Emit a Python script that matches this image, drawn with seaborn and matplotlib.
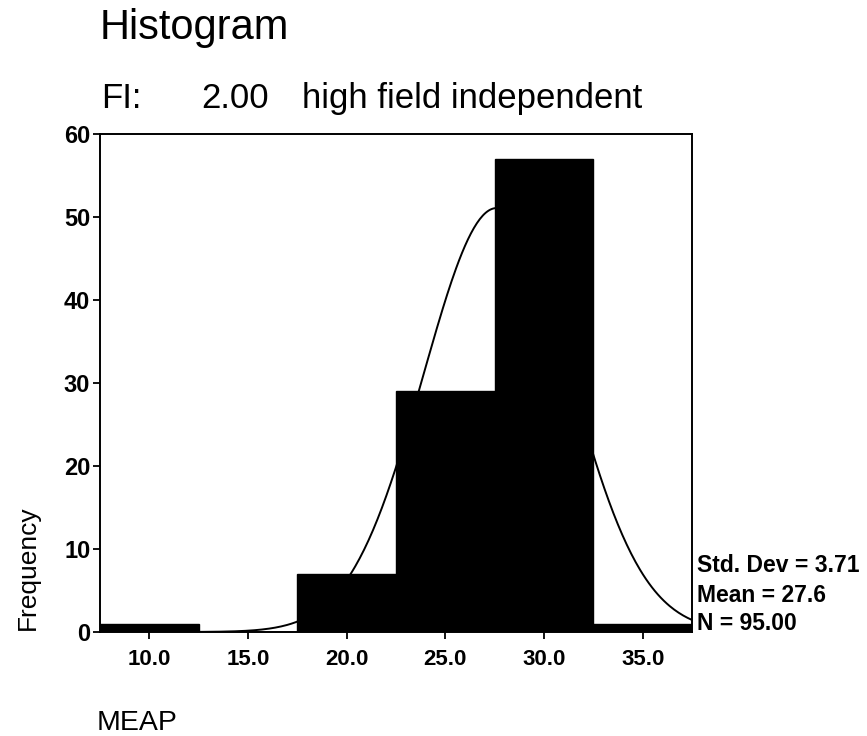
import numpy as np
import pandas as pd
import matplotlib
matplotlib.use("Agg")
import matplotlib.pyplot as plt
import seaborn as sns

# Data
bin_centers = [10.0, 15.0, 20.0, 25.0, 30.0, 35.0]
counts = [1, 0, 7, 29, 57, 1]
xtick_labels = ["10.0", "15.0", "20.0", "25.0", "30.0", "35.0"]
yticks = [0, 10, 20, 30, 40, 50, 60]
std_dev = 3.71
mean = 27.6
n_total = 95
bin_width = 5.0

sns.set_theme(style="white")
plt.rcParams['font.family'] = ['Liberation Sans', 'DejaVu Sans']

W, H = 867, 736
fig = plt.figure(figsize=(W / 100, H / 100), dpi=100)
ax = fig.add_axes([100 / W, 1 - 632 / H, 592 / W, 498 / H])

df = pd.DataFrame({"MEAP": bin_centers, "count": counts})
lo = bin_centers[0] - bin_width / 2
hi = bin_centers[-1] + bin_width / 2
sns.histplot(data=df, x="MEAP", weights="count", binwidth=bin_width, binrange=(lo, hi),
             color="black", edgecolor="black", alpha=1, linewidth=1, ax=ax)

# Normal curve from the stated mean / std dev
xs = np.linspace(lo, hi, 400)
ys = n_total * bin_width / (std_dev * np.sqrt(2 * np.pi)) * np.exp(-0.5 * ((xs - mean) / std_dev) ** 2)
sns.lineplot(x=xs, y=ys, color="black", linewidth=1.4, ax=ax)

ax.set_xlim(lo, hi)
ax.set_ylim(0, 60)
ax.set_xticks(bin_centers)
ax.set_xticklabels(xtick_labels)
ax.set_yticks(yticks)
ax.set_yticklabels([str(v) for v in yticks])
ax.tick_params(axis="both", direction="out", length=5, width=1.3, color="black",
               labelcolor="black", bottom=True, left=True)
ax.tick_params(axis="x", pad=7, labelsize=16)
ax.tick_params(axis="y", pad=2, labelsize=17)
for lab in ax.get_xticklabels() + ax.get_yticklabels():
    lab.set_fontweight("bold")
for s in ax.spines.values():
    s.set_color("black")
    s.set_linewidth(1.4)
    s.set_visible(True)
ax.set_xlabel("")
ax.set_ylabel("")

fig.text(100 / W, 1 - 39 / H, "Histogram", fontsize=30, ha="left", va="baseline", color="black")
sub_y = 1 - 108 / H
fig.text(101 / W, sub_y, "FI:", fontsize=25, ha="left", va="baseline", color="black")
fig.text(201 / W, sub_y, "2.00", fontsize=25, ha="left", va="baseline", color="black")
fig.text(302 / W, sub_y, "high field independent", fontsize=25, ha="left", va="baseline", color="black")
fig.text(28 / W, 1 - 568 / H, "Frequency", fontsize=19, rotation=90, ha="center", va="center", color="black")
fig.text(97 / W, 1 - 730 / H, "MEAP", fontsize=20.5, ha="left", va="baseline", color="black")

stats = [f"Std. Dev = {std_dev:.2f}", f"Mean = {mean:.1f}", f"N = {n_total:.2f}"]
ys_px = [565, 595, 624]
for t, yy in zip(stats, ys_px):
    fig.text(697 / W, 1 - yy / H, t, fontsize=16.5, fontweight="bold", ha="left", va="center", color="black")

fig.savefig("out.png", dpi=100, facecolor="white")
